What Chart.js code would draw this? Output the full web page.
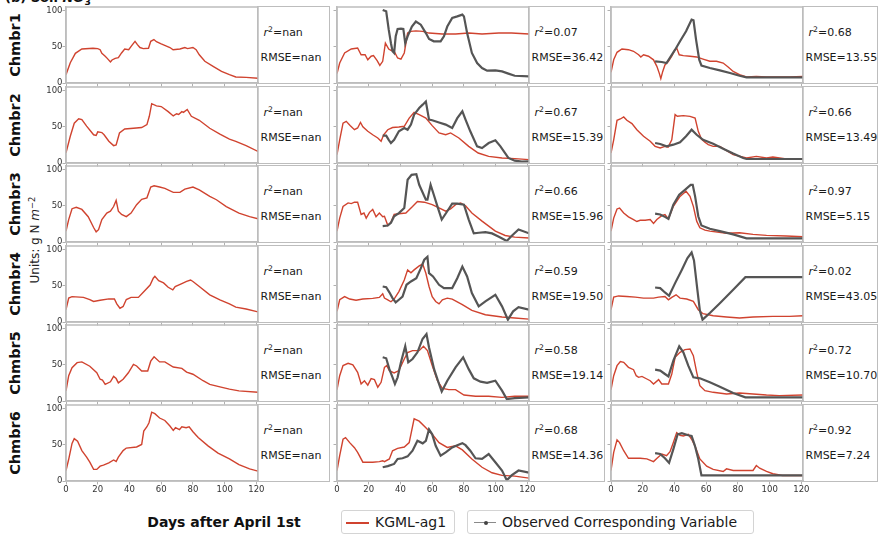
<!DOCTYPE html>
<html><head><meta charset="utf-8">
<script src="https://cdn.jsdelivr.net/npm/chart.js@4/dist/chart.umd.min.js"></script>
<style>
html,body{margin:0;padding:0;background:#fff;}
body{width:878px;height:534px;position:relative;overflow:hidden;font-family:'DejaVu Sans',sans-serif;color:#111;}
canvas{position:absolute;}
.tb{position:absolute;border:1.5px solid #bdbdbd;box-sizing:border-box;}
.tb div{position:absolute;font-size:11px;line-height:13px;white-space:nowrap;color:#1a1a1a;}
sup{font-size:0.7em;line-height:0;vertical-align:0.5em;}
sub{font-size:0.7em;line-height:0;vertical-align:-0.3em;}
.rot{position:absolute;white-space:nowrap;transform:translate(-50%,-50%) rotate(-90deg);}
.leg{position:absolute;border:1px solid #d4d4d4;border-radius:3px;box-sizing:border-box;background:#fff;}
.leg span{position:absolute;font-size:14px;line-height:16px;white-space:nowrap;color:#1a1a1a;}
</style></head><body>
<script>
// ---------------- DATA ----------------
const chambers = ['Chmbr1','Chmbr2','Chmbr3','Chmbr4','Chmbr5','Chmbr6'];
const dayTicks = [0,20,40,60,80,100,120];
const yTicks = [0,50,100];
const r2Col1 = ['nan','nan','nan','nan','nan','nan'];
const rmseCol1 = ['nan','nan','nan','nan','nan','nan'];
const r2Col2 = ['0.07','0.67','0.66','0.59','0.58','0.68'];
const rmseCol2 = ['36.42','15.39','15.96','19.50','19.14','14.36'];
const r2Col3 = ['0.68','0.66','0.97','0.02','0.72','0.92'];
const rmseCol3 = ['13.55','13.49','5.15','43.05','10.70','7.24'];

// KGML-ag1 model, column 1
const m_c1_r1 = [[0,11.5],[2.7,28],[5.9,41],[10,47],[17,48],[20,47.5],[21.5,46],[22.6,41],[24.7,37],[26,34],[28,29],[29,31.8],[31,34],[33,35],[35,41.5],[37,47],[39.5,46],[41.4,51.6],[43.5,57.6],[45,53],[46.6,49],[48.7,47.5],[52,48],[53.4,57.6],[55.4,60],[57,57],[60,54],[65.5,49],[67.5,46],[71.8,47],[74.9,49],[76.6,47.5],[80,49],[82,46],[84,39],[87.5,30],[92.7,23],[98,16],[103,11.5],[107,8.3],[113.5,7.8],[121,6.5]];
const m_c1_r2 = [[0,14],[2.7,37],[5.2,55],[8,61],[10,60],[13,51],[17.4,39],[19,38],[20,43],[22.6,42],[24,39],[27,30],[30,24],[31.6,25],[33.7,41.5],[37,47],[42.5,48],[47.7,49],[51,53],[52.5,64.5],[54,82],[57,79],[60,78],[64.4,71],[67.6,65],[69.7,68],[71,67],[73,71],[74,70],[76.4,74],[79,64.5],[84,59],[90.6,48],[97,40],[103,33],[107,30],[113.5,24],[121,16]];
const m_c1_r3 = [[0,15],[1.7,31],[3.8,46],[6.5,48],[10,45],[14,35],[17.4,20],[19,14],[20.5,17],[22.6,31],[25.7,40],[28,42.5],[30,49],[31.6,57.5],[33,42.5],[35,38],[38,35],[41,40],[44.5,51.6],[47.7,59],[51,61],[53.4,76],[55.5,77.6],[59,76],[62.3,74],[67.6,68.5],[71.8,68.5],[74.9,73],[80,76],[84,72],[90.6,63],[94.8,58.4],[101,49],[109,40],[115.7,35],[121,32]];
const m_c1_r4 = [[0,17],[1.7,33],[3.8,35],[11,34],[15,31],[17.4,28.4],[21.5,30],[27,32],[30.5,31.7],[32,25],[34,19],[36,21.5],[38,31],[41,34],[45.6,34],[48.7,41],[53,51],[55,60.5],[56,63],[58.4,57],[61.5,54],[64.4,48],[67.3,44.5],[68.8,49],[73,53],[76,56],[78.5,58],[80,56],[84,49],[90.6,37.6],[97,30.7],[103,25],[107,20.6],[113.5,18],[121,14]];
const m_c1_r5 = [[0,14],[1.7,35],[3.8,46],[7,53],[10,54],[15,48],[19.4,39],[21.5,30],[23,29],[24.7,23],[28,26.5],[30,34],[31.6,31],[33,25],[36,30],[39.3,39],[42.5,50.7],[44.5,48.4],[47.7,41.5],[51.5,41.5],[53.4,55],[55.5,61],[59,54],[62.3,54],[67.6,47],[73,45],[76,40],[80,37],[86.4,28],[90.6,23],[97,19.6],[103,16.4],[109,14],[121,12]];
const m_c1_r6 = [[0,14.5],[1.7,30],[3.8,52],[5.2,58.6],[7.3,55],[10,42],[13,33],[15,26],[17.4,16],[19.4,16],[21.5,20.5],[23.6,22],[27,25],[30,29],[31.6,27],[33,33],[36,42],[38,45.5],[44.5,47],[47.7,50.5],[49,69],[51,75],[52.3,80.5],[54,95],[56,93],[59,87],[62.3,83.6],[65.5,76],[67.6,70],[69,73.6],[71.5,71],[73,75],[75.7,73.6],[77.6,75],[80,68],[83.3,60],[89.5,48.6],[95.8,38.6],[103,30.5],[109,22.7],[115.7,16.8],[121,13.6]];

// KGML-ag1 model, column 2
const m_c2_r1 = [[0,13],[1.7,27.6],[4.8,41.5],[9,47],[13,48.4],[15.2,39],[17.7,39],[19.4,32],[21.5,37],[23,38],[25.3,31],[27,24.4],[28.8,30],[30.5,55],[32.6,47],[34,45],[36,44],[38.2,34.6],[40.3,33],[42.4,41.5],[44.5,69],[46.6,71.4],[49.7,72],[54,71.4],[58,69],[66.4,67.7],[74.7,67.7],[83,69],[91.4,67.7],[102,69],[110,69],[121,67.7]];
const m_c2_r2 = [[0,11.5],[1.7,32],[3.8,55],[5.8,57.6],[8.4,51.6],[11,46],[13,48.4],[14.8,56],[16.3,50],[19.4,43.8],[22.5,39],[25.7,34.6],[27.8,30],[29.4,39],[32,46],[35,49],[39,49.8],[42.4,50.7],[45.5,62],[48.6,70],[51.8,66.8],[56,62],[60,51.6],[64.3,41.5],[68.5,39],[71.6,41.5],[76.8,34.6],[83,23],[89,13.8],[95.6,9.2],[104,7],[112,6],[121,4.6]];
const m_c2_r3 = [[0,15],[1.7,33],[3.8,49],[7,54],[9,53],[11,55],[13,55],[15.2,38],[17,40],[18.4,33],[20.5,41],[22.5,45],[24.6,35],[26.7,40],[28.8,35],[29.9,35.6],[32,23],[34,27.4],[36,38],[39,39],[43.4,40],[47.6,49],[50.7,56],[55,55],[60,51.6],[64.3,47],[68.5,42.5],[71.6,45.7],[74.7,51.6],[77.9,54],[81,50],[85,40],[91.4,28.8],[99.8,15],[106,9],[112,6.8],[121,5.5]];
const m_c2_r4 = [[0,14.7],[1.7,30.7],[4.8,35],[8,31.7],[12,30],[16.3,31.7],[22.5,32.6],[26.7,34],[28.8,39],[29.9,33],[32,30.7],[34,28],[36,31.7],[39,42],[42.4,58],[44.5,72],[46.6,68],[48.6,72],[51.8,77.5],[54,80],[56,67.4],[58,49],[60,35],[62.2,28.4],[64.3,25],[66.4,30.7],[69.5,33],[72.6,31.7],[79,24],[85,16],[93.5,10],[104,7],[112,5.5],[121,4]];
const m_c2_r5 = [[0,15.7],[1.7,35],[3.8,49],[7,52],[10,50],[13,39.6],[15.2,23.5],[17.3,28],[19.4,22],[21.5,31],[23.6,29.5],[25.7,19],[27.8,25.8],[29.9,46.5],[31.3,49],[33,42],[36,38.7],[39,42],[42.4,58],[44.5,67],[47.6,69.6],[51.8,69.6],[54.5,75.6],[57,69.6],[60,49],[63.3,28],[66.4,17.5],[70.5,15.7],[74.7,15.7],[80,8.3],[87.3,6.5],[95.6,6.5],[104,5],[112,6.5],[121,6.5]];
const m_c2_r6 = [[0,14.5],[1.7,35],[3.8,57.7],[5.4,60],[8,53],[11,46],[13,39.5],[16.3,26],[19.4,26],[22.5,26],[26.7,26.8],[28.8,28],[29.9,26.8],[33,30.5],[35,41.8],[38.2,45],[42.4,47],[45.5,53],[48.6,86],[51.8,82.7],[56,73.6],[60,64.5],[64.3,53],[69.5,46.4],[74.7,48.6],[79,43],[85,30.5],[91.4,19],[97.7,11.4],[104,7.7],[112,6.8],[121,4]];

// KGML-ag1 model, column 3
const m_c3_r1 = [[0,14.7],[1.7,32],[3.8,42.4],[6.9,47],[11,46],[14.2,43.8],[17.4,39],[18.8,36],[20.5,39],[23.6,37],[26.8,32],[28.9,23],[30.5,13],[31.4,6],[32.6,16],[34,25],[36.2,30],[38.3,37],[40.4,46],[41.4,48.4],[43,39],[45.6,37.8],[49.8,37],[54,36],[58,33],[62.3,30],[66.5,30],[70.7,27.6],[74,21.7],[77,16],[81,11.5],[85.4,8.3],[91.6,9.2],[98,8.3],[106,8.3],[112.5,8.3],[121,9.2]];
const m_c3_r2 = [[0,13.8],[1.7,32],[3.8,59],[5.9,60.8],[8,63.6],[10,59],[13.2,54.4],[16.3,46],[20.5,37],[24.7,30],[27.8,23],[31,20.7],[34,23],[36,22],[38.3,32],[40.4,66.8],[41.8,64.5],[45.6,65.4],[49.8,64.5],[53,62],[55,43.8],[57,33],[59.2,28.6],[61.3,25.3],[64.4,23],[68.6,23],[71.8,18.4],[77,11.5],[85.4,7],[91.6,9.2],[98,7],[102,8.3],[110.5,5.5],[121,5.5]];
const m_c3_r3 = [[0,15],[1.7,33],[3.8,45.7],[5.4,47],[8,40],[11,34.7],[14.2,31],[16.3,28.3],[18.4,30],[21.5,30],[24.7,31],[26.8,25.6],[28.9,31],[32,36.5],[34,38],[36.2,32],[39.3,49.3],[43.5,63],[47.3,70],[49.8,63],[51.9,49.3],[54,28.8],[56,19.6],[59.2,16.4],[62.3,15],[72.8,12],[81,12.8],[89.5,10.5],[98,9.1],[110.5,8.2],[121,7.3]];
const m_c3_r4 = [[0,17],[1.7,34.4],[4.8,36],[10,35.3],[15.3,34.4],[20.5,33],[26.8,33],[30,34.4],[34,35.3],[36.2,30.7],[38.3,34],[41,37.6],[43.5,33],[47.7,31.7],[51.9,28.4],[55,17],[58,11.5],[64.4,8.7],[72.8,6.9],[81,5.5],[89.5,6.9],[102,7.8],[112.5,7.8],[121,8.7]];
const m_c3_r5 = [[0,15.7],[1.7,35],[3.8,48.8],[5.9,54.4],[8,53.5],[11,46.5],[14.2,43.3],[15.9,35],[17.4,32.7],[19.5,34],[22.6,30.4],[24.7,28],[26.8,23.5],[30,29.5],[32,23.5],[36.2,23.5],[38.3,37.3],[40.4,60.4],[43.5,67.3],[46.6,71],[49.8,71.9],[51.9,62.7],[54,39.6],[56,21.2],[59.2,14.3],[64.4,12],[72.8,9.7],[81,11],[89.5,9.7],[98,8.3],[106,7.4],[121,8.3]];
const m_c3_r6 = [[0,14.5],[1.7,39.5],[3.8,56.8],[5.4,53],[8,41.8],[11,31.4],[14.2,31.4],[18.4,31.4],[22.6,30.5],[26.8,26.8],[29,31.4],[32,37.3],[35,35],[37.2,40.5],[39.3,53.2],[41.4,66.8],[43.5,63.2],[45.6,62.3],[48.7,64.5],[50.8,57.7],[52.9,48.6],[56,30.5],[60.3,20.5],[64.4,16],[70.7,13.2],[72.8,16.8],[77,14.5],[83.3,14.5],[89.5,14.5],[91.6,21.4],[93.7,17.7],[98,13.2],[102,10],[108,7.7],[121,7.7]];

// Observed, column 2
const o_c2_r1 = [[28.8,101],[31,99],[32.6,73.7],[34,55],[35,44],[36,41.5],[37,64.5],[38.2,74.7],[40.3,75],[41.8,74.7],[43,55],[44.5,64.5],[47.2,78],[49.7,85],[52.8,80.6],[56,69],[58,60.8],[61,57.6],[65.3,57.6],[67.4,64.5],[69.5,78],[72.6,90],[75.8,92],[79,94.5],[80,92],[82,69],[85,41.5],[88.3,27.6],[91.4,20.7],[94.6,17],[99.8,17.5],[104,16],[108,13],[112,10],[121,9.2]];
const o_c2_r2 = [[28.8,37.8],[31,37.8],[32.6,32],[34,27.6],[36,32],[39,43.8],[42.4,48.4],[44.5,46],[46.6,53],[48.6,66.8],[51.8,76],[54,80.6],[56,85],[58,60],[60,59],[64.3,56],[68.5,53],[72.6,48.4],[75.8,62],[79,71.4],[81,60],[84,43.8],[88.3,23],[91.4,20.7],[95.6,27.6],[99.8,31.3],[103,23],[108,7],[112,3.2],[116.5,2],[121,2.3]];
const o_c2_r3 = [[28.8,22],[32,22.8],[34,26.5],[36,35.6],[39,40],[42.4,47],[44.5,86],[47,92.7],[50,93.6],[51.8,79],[56,58.4],[57,58.4],[59,79],[61,65.3],[63.3,49.3],[66,31],[69.5,42.5],[72.6,53],[75.8,53],[80,51.6],[83,31],[86.2,12],[89.4,12.8],[93.5,13.7],[97.7,11.9],[102,7.3],[107,1.4],[110,8.2],[114.4,17.4],[121,12]];
const o_c2_r4 = [[28.8,49],[31,48],[33,41],[35,33],[37,27],[39,30.7],[41.3,35],[43.8,51.4],[46.6,56],[50,60.5],[52.8,74],[55,86],[57,90],[58,67.4],[60.5,63],[64.3,51.4],[67.4,46.8],[72.6,46.8],[75.8,60.5],[79,76.6],[82,63],[85,40],[89.3,21.6],[93.5,28.4],[99.8,37.6],[104,21.6],[107.7,3.2],[111,14.7],[114.4,20.6],[121,17]];
const o_c2_r5 = [[28.8,60.4],[31,59],[33,44],[35,32.7],[36.5,23.5],[38.2,32.7],[40.3,53.5],[43,75.6],[44.9,53.5],[47.6,58],[50.7,67.3],[53.9,85.7],[56.4,92.6],[58,74],[61.2,44],[64.3,23.5],[66,13],[69.5,28],[74.7,46.5],[79.5,60.4],[83,44],[86.2,31.3],[90.4,26.7],[94.6,25],[99.8,28],[104,14.3],[107,2.8],[112,4],[121,5]];
const o_c2_r6 = [[28.8,19],[32,20.5],[36,23.6],[38.2,30.5],[41.3,31.4],[44.5,34],[47.6,41.8],[50.7,55.5],[54,52],[56,55.5],[58,71.4],[60,64.5],[62.2,48.6],[65.3,35],[68.5,39.5],[72.6,46.4],[75.8,49.5],[79,52.3],[81,49.5],[84,41.8],[87.3,31.4],[91.4,30.5],[95.6,37.3],[99.8,26],[104,14.5],[107,1],[110,7.7],[114.4,14.5],[121,11.4]];

// Observed, column 3
const o_c3_r1 = [[27.8,30],[32,29],[35,27.6],[37.7,37],[40.4,46],[43.5,57.6],[47.3,71.4],[50.8,87.6],[52,86.6],[53.6,60],[55.6,32.2],[57,24],[62.3,20.7],[68.6,17.5],[75,13.8],[81,10],[85.4,7.8],[93.7,7.8],[102,7.8],[112.5,7.8],[121,7.8]];
const o_c3_r2 = [[27.8,27.6],[31,26.3],[35,23],[39.3,25.3],[43.5,28.6],[47.3,37],[50.8,46],[54,39],[58,32],[64.4,26.7],[70.7,19.8],[77,13],[83.3,7],[85.4,5.5],[98,5.5],[121,5.5]];
const o_c3_r3 = [[27.8,39.3],[31,38],[34,34.7],[36.2,32],[39.3,51.6],[43,65.3],[46.6,72],[50.2,79],[51.5,79],[53,63],[55,35.6],[57,22.8],[62.3,18.3],[68.6,15],[77,10.5],[85.4,5],[93.7,5],[104,5],[121,5]];
const o_c3_r4 = [[27.8,47.7],[31,46.8],[34,40.8],[36.6,36.2],[40.4,53.7],[44.6,72],[48.1,88],[50.8,96],[52.3,85],[54.4,45],[56,16],[57.7,3.2],[62.3,12.4],[68.6,26],[77,44.5],[84.7,62],[93.7,62],[106,62],[121,62]];
const o_c3_r5 = [[27.8,43.3],[31,42],[34,37.3],[36.2,34],[39.3,55.8],[43,75.6],[45.6,67.3],[48.7,48.8],[51.9,32.7],[56,31.3],[62.3,25.8],[68.6,19.8],[77,11],[84.7,5],[121,5]];
const o_c3_r6 = [[27.8,38.6],[31,37.3],[34,31.4],[36.6,25],[39.3,44],[42,64.5],[44.6,66],[48.7,63.2],[50.8,62.3],[52.9,48.6],[55,30.5],[57,7.7],[121,7.7]];

// ---------------- ASSEMBLY ----------------
const MODEL = [
  [m_c1_r1, m_c2_r1, m_c3_r1],[m_c1_r2, m_c2_r2, m_c3_r2],[m_c1_r3, m_c2_r3, m_c3_r3],
  [m_c1_r4, m_c2_r4, m_c3_r4],[m_c1_r5, m_c2_r5, m_c3_r5],[m_c1_r6, m_c2_r6, m_c3_r6]];
const OBS = [
  [null, o_c2_r1, o_c3_r1],[null, o_c2_r2, o_c3_r2],[null, o_c2_r3, o_c3_r3],
  [null, o_c2_r4, o_c3_r4],[null, o_c2_r5, o_c3_r5],[null, o_c2_r6, o_c3_r6]];
const R2 = [r2Col1, r2Col2, r2Col3];
const RMSE = [rmseCol1, rmseCol2, rmseCol3];

const RED = '#d0432f', OBSC = '#555555', AXC = '#bdbdbd';
const COL_L = [66, 337, 611], PW = 192, PH = 76, TBW = [73, 77, 76];
const ML = 40, MT = 8, MR = 12, MB = 20;
const rowTop = r => Math.round(7 + r * 79.6);
const pts = a => a.map(p => ({x: p[0], y: p[1]}));

const body = document.body;
function el(tag, cls, css, html) {
  const e = document.createElement(tag);
  if (cls) e.className = cls;
  Object.assign(e.style, css || {});
  if (html !== undefined) e.innerHTML = html;
  body.appendChild(e);
  return e;
}

// title (clipped at top)
el('div', '', {position:'absolute', left:'5px', top:'-10px', fontSize:'13px', fontWeight:'bold', lineHeight:'15px', whiteSpace:'nowrap'}, '(b) Soil <i>NO</i><sub>3</sub>');

// units label
el('div', 'rot', {left:'35px', top:'240px', fontSize:'12px', color:'#222'}, 'Units: g N <i>m</i><sup>\u22122</sup>');

// x axis label
el('div', '', {position:'absolute', left:'224px', top:'522px', transform:'translate(-50%,-50%)', fontSize:'14px', fontWeight:'bold', whiteSpace:'nowrap'}, 'Days after April 1st');

// text boxes and row labels
for (let r = 0; r < 6; r++) {
  const T = rowTop(r);
  el('div', 'rot', {left:'15px', top:(T + PH/2) + 'px', fontSize:'14.5px', fontWeight:'bold'}, chambers[r]);
  for (let c = 0; c < 3; c++) {
    const L = COL_L[c];
    const tb = el('div', 'tb', {left:(L + PW - 1) + 'px', top:(T - 1) + 'px', width:TBW[c] + 'px', height:(PH + 2) + 'px'});
    const a = document.createElement('div');
    a.style.left = '5.5px'; a.style.top = '19px';
    a.innerHTML = '<i>r</i><sup>2</sup>=' + R2[c][r];
    tb.appendChild(a);
    const b = document.createElement('div');
    b.style.left = '2.5px'; b.style.top = '44px';
    b.textContent = 'RMSE=' + RMSE[c][r];
    tb.appendChild(b);
  }
}

// legend
const lg1 = el('div', 'leg', {left:'341px', top:'510px', width:'114px', height:'24px'});
const l1 = document.createElement('div');
Object.assign(l1.style, {position:'absolute', left:'4px', top:'11px', width:'23px', height:'1.5px', background:RED});
lg1.appendChild(l1);
const t1 = document.createElement('span'); t1.style.left = '33px'; t1.style.top = '3px'; t1.textContent = 'KGML-ag1'; lg1.appendChild(t1);

const lg2 = el('div', 'leg', {left:'467px', top:'510px', width:'287px', height:'24px'});
const l2 = document.createElement('div');
Object.assign(l2.style, {position:'absolute', left:'6px', top:'11px', width:'22px', height:'1px', background:'#8a8a8a'});
lg2.appendChild(l2);
const d2 = document.createElement('div');
Object.assign(d2.style, {position:'absolute', left:'15.5px', top:'9.5px', width:'4px', height:'4px', borderRadius:'50%', background:'#444'});
lg2.appendChild(d2);
const t2 = document.createElement('span'); t2.style.left = '34px'; t2.style.top = '3px'; t2.textContent = 'Observed Corresponding Variable'; lg2.appendChild(t2);

// frame plugin: full box around plot area
const framePlugin = {
  id: 'frame',
  afterDraw(chart) {
    const {ctx, chartArea: a} = chart;
    ctx.save();
    ctx.strokeStyle = AXC; ctx.lineWidth = 1.5;
    ctx.strokeRect(a.left, a.top, a.right - a.left, a.bottom - a.top);
    ctx.restore();
  }
};

for (let r = 0; r < 6; r++) {
  for (let c = 0; c < 3; c++) {
    const L = COL_L[c], T = rowTop(r);
    const cv = document.createElement('canvas');
    const w = PW + ML + MR, h = PH + MT + MB;
    cv.width = w; cv.height = h;
    Object.assign(cv.style, {left:(L - ML) + 'px', top:(T - MT) + 'px', width:w + 'px', height:h + 'px'});
    body.appendChild(cv);
    const datasets = [];
    if (OBS[r][c]) datasets.push({data: pts(OBS[r][c]), borderColor: OBSC, borderWidth: 2.2, pointRadius: 0, tension: 0});
    datasets.push({data: pts(MODEL[r][c]), borderColor: RED, borderWidth: 1.4, pointRadius: 0, tension: 0});
    const showX = r === 5, showY = c === 0;
    new Chart(cv, {
      type: 'line',
      data: {datasets},
      plugins: [framePlugin],
      options: {
        responsive: false, animation: false, events: [],
        layout: {padding: {top: MT, right: MR, left: 0, bottom: 0}},
        plugins: {legend: {display: false}, tooltip: {enabled: false}},
        scales: {
          x: {
            type: 'linear', min: 0, max: 121,
            afterBuildTicks: s => { s.ticks = dayTicks.map(v => ({value: v})); },
            afterFit: s => { s.height = MB; s.paddingLeft = 0; s.paddingRight = 0; s.paddingTop = 0; s.paddingBottom = 0; },
            grid: {drawOnChartArea: false, drawTicks: true, tickLength: 3.5, color: '#b0b0b0'},
            border: {color: AXC, width: 1.5},
            ticks: {color: showX ? '#333' : 'rgba(0,0,0,0)', font: {size: 8.5, family: 'DejaVu Sans'}, padding: 0, maxRotation: 0, autoSkip: false}
          },
          y: {
            type: 'linear', min: 0, max: 105,
            afterBuildTicks: s => { s.ticks = yTicks.map(v => ({value: v})); },
            afterFit: s => { s.width = ML; s.paddingTop = 0; s.paddingBottom = 0; s.paddingLeft = 0; s.paddingRight = 0; },
            grid: {drawOnChartArea: false, drawTicks: true, tickLength: 3.5, color: '#b0b0b0'},
            border: {color: AXC, width: 1.5},
            ticks: {color: showY ? '#333' : 'rgba(0,0,0,0)', font: {size: 8.5, family: 'DejaVu Sans'}, padding: 0}
          }
        }
      }
    });
  }
}
</script>
</body></html>
